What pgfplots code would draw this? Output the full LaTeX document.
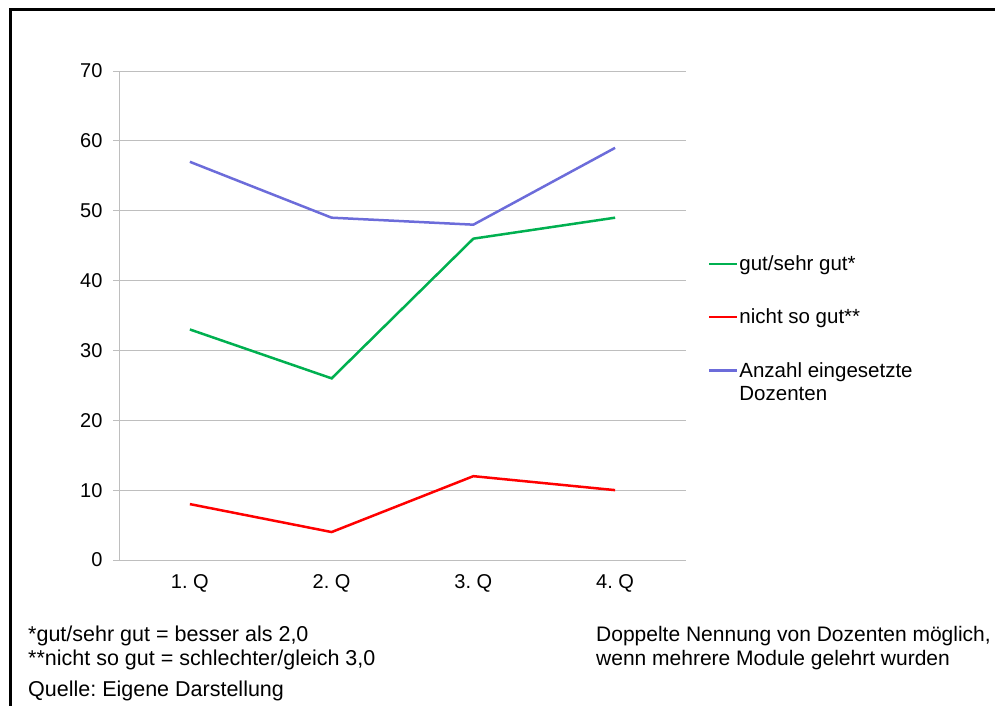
\documentclass[border=0pt]{standalone}
\usepackage{pgfplots}
\pgfplotsset{compat=1.18}
\usepackage{fontspec}
\setmainfont{Liberation Sans}
\frenchspacing
\definecolor{cgreen}{RGB}{0,176,80}
\definecolor{cred}{RGB}{255,0,0}
\definecolor{cblue}{RGB}{108,108,218}
\definecolor{cgrid}{RGB}{190,190,190}
\begin{document}
\begin{tikzpicture}[x=1bp,y=1bp]
\useasboundingbox (0,0) rectangle (995,706);
\draw[line width=2.2bp] (10.5,0) -- (10.5,696.5) -- (1000,696.5);
\begin{axis}[
  at={(119bp,146bp)}, anchor=south west,
  scale only axis, width=567bp, height=489bp,
  xmin=-0.5, xmax=3.5, ymin=0, ymax=70,
  axis x line*=bottom, axis y line*=left,
  axis line style={cgrid, line width=0.9bp},
  ytick={0,10,...,70},
  ymajorgrids, grid style={cgrid, line width=0.9bp},
  xtick={0,1,2,3}, xticklabels={1. Q,2. Q,3. Q,4. Q},
  extra x ticks={-0.5,0.5,1.5,2.5,3.5}, extra x tick labels={},
  extra x tick style={major tick length=6bp, tick style={cgrid, line width=0.9bp}, tick pos=bottom, xtick align=outside, grid=none},
  major x tick style={draw=none},
  ytick align=outside, major tick length=6bp,
  y tick style={cgrid, line width=0.9bp},
  tick label style={font=\fontsize{20bp}{22bp}\selectfont, text=black},
  /pgf/number format/assume math mode=true,
  yticklabel style={xshift=-7bp},
  xticklabel style={yshift=-11bp},
  legend style={draw=none, fill=none, at={(1.033,0.631)}, anchor=north west,
    font=\fontsize{20.5bp}{23bp}\selectfont, row sep=33bp,
    nodes={inner xsep=1bp}},
  legend cell align=left,
  legend image code/.code={\draw[#1, line width=2.5bp] (0bp,0bp) -- (28bp,0bp);},
]
\addplot[cgreen, line width=2.5bp] coordinates {(0,33) (1,26) (2,46) (3,49)};
\addlegendentry{gut/sehr gut*}
\addplot[cred, line width=2.5bp] coordinates {(0,8) (1,4) (2,12) (3,10)};
\addlegendentry{nicht so gut**}
\addplot[cblue, line width=2.5bp] coordinates {(0,57) (1,49) (2,48) (3,59)};
\addlegendentry{\makebox[0pt][l]{\raisebox{-23bp}[0pt][0pt]{Dozenten}}Anzahl eingesetzte}
\end{axis}
\begin{scope}[font=\fontsize{21.5bp}{23bp}\selectfont]
\node[anchor=base west, inner sep=0] at (28,64.5) {*gut/sehr gut = besser als 2,0};
\node[anchor=base west, inner sep=0] at (28,40) {**nicht so gut = schlechter/gleich 3,0};
\node[anchor=base west, inner sep=0] at (28,9) {Quelle: Eigene Darstellung};
\end{scope}
\begin{scope}[font=\fontsize{21bp}{23bp}\selectfont]
\node[anchor=base west, inner sep=0] at (596,64.5) {Doppelte Nennung von Dozenten möglich,};
\node[anchor=base west, inner sep=0] at (596,40) {wenn mehrere Module gelehrt wurden};
\end{scope}
\end{tikzpicture}
\end{document}
